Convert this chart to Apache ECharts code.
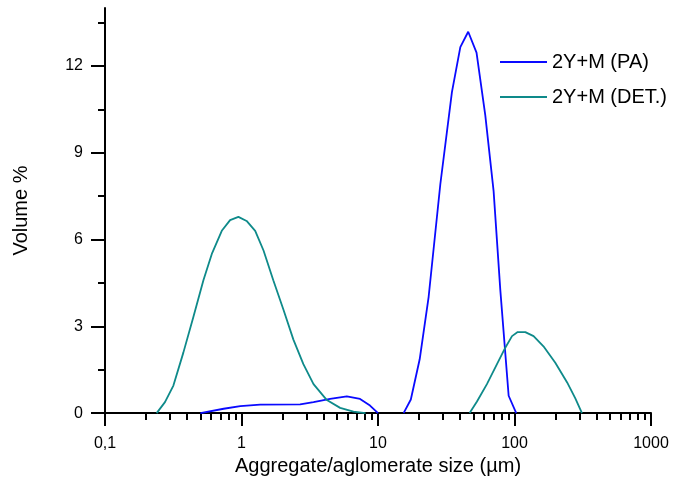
<!DOCTYPE html>
<html>
<head>
<meta charset="utf-8">
<script src="https://cdn.jsdelivr.net/npm/echarts@6/dist/echarts.min.js"></script>
<style>
  html, body { margin: 0; padding: 0; background: #ffffff; }
  #chart { width: 673px; height: 481px; }
</style>
</head>
<body>
<div id="chart"></div>
<script>
// Particle size distribution, volume % per size class (log size axis)
const seriesNames = ['2Y+M (PA)', '2Y+M (DET.)'];
const seriesColors = ['#0a0aff', '#0e8a8a'];

// 2Y+M (PA): fine tail, then the main mode around 45 µm
const paSize = [0.5, 0.74, 0.98, 1.37, 2.69, 3.37, 4.46, 5.91, 7.39, 8.74, 10,
  null,
  15.4, 17.4, 20.2, 23.5, 28.6, 34.8, 40.1, 45.8, 52.7, 61.1, 70.3, 78.7, 90.6, 103];
const paVolume = [0, 0.15, 0.24, 0.29, 0.3, 0.38, 0.49, 0.58, 0.49, 0.26, 0,
  null,
  0, 0.47, 1.86, 4.02, 7.9, 11.09, 12.65, 13.18, 12.46, 10.29, 7.67, 4.26, 0.6, 0];

// 2Y+M (DET.): sub-micron mode and a coarse mode above 45 µm
const detSize = [0.239, 0.275, 0.317, 0.375, 0.445, 0.526, 0.606, 0.717, 0.825, 0.949,
  1.09, 1.26, 1.45, 1.71, 2.03, 2.40, 2.84, 3.37, 4.22, 5.28, 6.61, 8.1,
  null,
  46.9, 53.1, 62.8, 74.4, 85.6, 95.9, 105.5, 120, 138, 163, 199, 243, 279, 312];
const detVolume = [0, 0.38, 0.95, 2.09, 3.34, 4.59, 5.5, 6.3, 6.67, 6.78,
  6.64, 6.3, 5.62, 4.59, 3.57, 2.54, 1.69, 1.0, 0.45, 0.18, 0.05, 0,
  null,
  0, 0.4, 1.0, 1.69, 2.26, 2.66, 2.8, 2.8, 2.66, 2.31, 1.74, 1.06, 0.51, 0];

// Axis ticks
const xMajorTicks = [0.1, 1, 10, 100, 1000];
const xMinorTicks = [0.2, 0.3, 0.4, 0.5, 0.6, 0.7, 0.8, 0.9,
  2, 3, 4, 5, 6, 7, 8, 9,
  20, 30, 40, 50, 60, 70, 80, 90,
  200, 300, 400, 500, 600, 700, 800, 900];
const yMajorTicks = [0, 3, 6, 9, 12];
const yMinorTicks = [1.5, 4.5, 7.5, 10.5, 13.5];

const FONT = '"Liberation Sans", Arial, sans-serif';

function pairs(xs, ys) {
  return xs.map((x, i) => (x === null ? [null, null] : [x, ys[i]]));
}

const chart = echarts.init(document.getElementById('chart'), null, { renderer: 'canvas' });

const axisLine = { show: true, lineStyle: { color: '#000', width: 2 } };

chart.setOption({
  backgroundColor: '#ffffff',
  animation: false,
  textStyle: { fontFamily: FONT },
  grid: { left: 105, right: 22, top: 8, bottom: 63, containLabel: false },
  legend: {
    orient: 'vertical',
    left: 495,
    top: 47,
    icon: 'rect',
    itemWidth: 47,
    itemHeight: 2,
    itemGap: 15,
    textStyle: { fontFamily: FONT, fontSize: 20, color: '#000' },
    data: seriesNames
  },
  xAxis: [
    {
      type: 'log', logBase: 10, min: 0.1, max: 1000,
      position: 'bottom',
      name: 'Aggregate/aglomerate size (µm)',
      nameLocation: 'middle',
      nameGap: 37,
      nameTextStyle: { fontFamily: FONT, fontSize: 20, color: '#000' },
      axisLine: axisLine,
      axisTick: { show: true, inside: false, length: 13, lineStyle: { color: '#000', width: 2 }, customValues: xMajorTicks },
      axisLabel: {
        show: true, margin: 22, fontFamily: FONT, fontSize: 16, color: '#000',
        customValues: xMajorTicks,
        formatter: v => String(v).replace('.', ',')
      },
      splitLine: { show: false },
      minorTick: { show: false }
    },
    {
      type: 'log', logBase: 10, min: 0.1, max: 1000,
      position: 'bottom',
      axisLine: { show: false },
      axisTick: { show: true, inside: false, length: 7, lineStyle: { color: '#000', width: 2 }, customValues: xMinorTicks },
      axisLabel: { show: false },
      splitLine: { show: false }
    }
  ],
  yAxis: [
    {
      type: 'value', min: 0, max: 14, interval: 3,
      position: 'left',
      name: 'Volume %',
      nameLocation: 'middle',
      nameGap: 74,
      nameTextStyle: { fontFamily: FONT, fontSize: 20, color: '#000' },
      axisLine: axisLine,
      axisTick: { show: true, inside: false, length: 14, lineStyle: { color: '#000', width: 2 }, customValues: yMajorTicks },
      axisLabel: { show: true, margin: 22, fontFamily: FONT, fontSize: 16, color: '#000', customValues: yMajorTicks },
      splitLine: { show: false }
    },
    {
      type: 'value', min: 0, max: 14, interval: 1.5,
      position: 'left',
      axisLine: { show: false },
      axisTick: { show: true, inside: false, length: 7, lineStyle: { color: '#000', width: 2 }, customValues: yMinorTicks },
      axisLabel: { show: false },
      splitLine: { show: false }
    }
  ],
  series: [
    {
      name: seriesNames[0],
      type: 'line',
      xAxisIndex: 0, yAxisIndex: 0,
      symbol: 'none',
      connectNulls: false,
      lineStyle: { color: seriesColors[0], width: 1.8 },
      itemStyle: { color: seriesColors[0] },
      data: pairs(paSize, paVolume)
    },
    {
      name: seriesNames[1],
      type: 'line',
      xAxisIndex: 0, yAxisIndex: 0,
      symbol: 'none',
      connectNulls: false,
      lineStyle: { color: seriesColors[1], width: 1.8 },
      itemStyle: { color: seriesColors[1] },
      data: pairs(detSize, detVolume)
    }
  ]
});
</script>
</body>
</html>
